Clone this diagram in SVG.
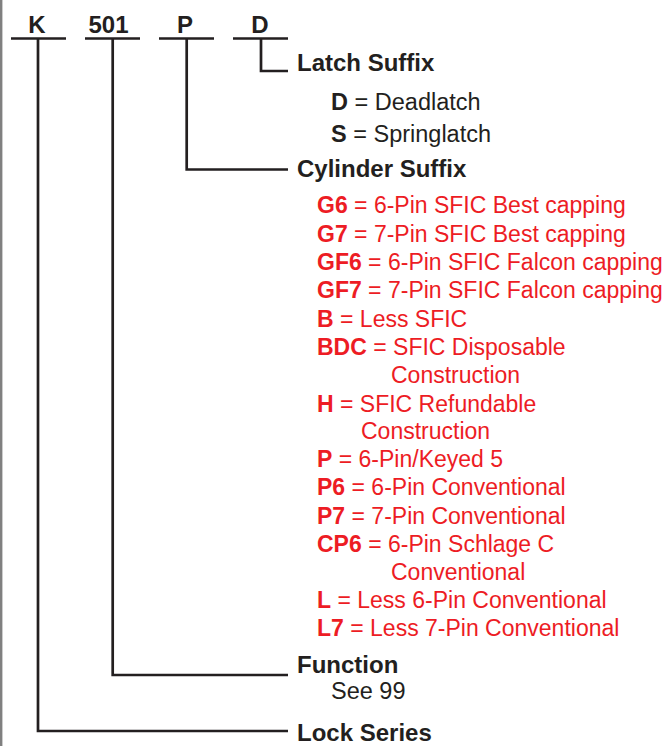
<svg xmlns="http://www.w3.org/2000/svg" width="666" height="746" viewBox="0 0 666 746">
<style>
.ln{stroke:#231f20;stroke-width:2.7;fill:none;stroke-linecap:butt;stroke-linejoin:miter}
.hd{font-family:"Liberation Sans",Arial,sans-serif;font-weight:bold;font-size:24px;fill:#231f20}
.code{font-family:"Liberation Sans",Arial,sans-serif;font-weight:bold;font-size:24px;fill:#231f20;text-anchor:middle}
.bk{font-family:"Liberation Sans",Arial,sans-serif;font-size:23.5px;fill:#231f20}
.rd{font-family:"Liberation Sans",Arial,sans-serif;font-size:23px;fill:#ed1c24}
.b{font-weight:bold}
</style>
<rect x="0" y="0" width="666" height="746" fill="#ffffff"/>
<rect x="0" y="0" width="2.4" height="746" fill="#808080"/>
<g id="connectors">
<path class="ln" d="M11 38.5H66M38 38.5V731H288"/>
<path class="ln" d="M85 38.5H140M112.7 38.5V675H288"/>
<path class="ln" d="M159 38.5H214M186.7 38.5V169.5H288"/>
<path class="ln" d="M233 38.5H288M261 38.5V71H288"/>
</g>
<g id="code-K"><text class="code" x="37" y="33">K</text></g>
<g id="code-501"><text class="code" x="108.5" y="33">501</text></g>
<g id="code-P"><text class="code" x="185" y="33">P</text></g>
<g id="code-D"><text class="code" x="260" y="33">D</text></g>
<g id="latch-suffix">
<text class="hd" x="297" y="71">Latch Suffix</text>
<text class="bk" x="331" y="110"><tspan class="b">D</tspan> = Deadlatch</text>
<text class="bk" x="331" y="142"><tspan class="b">S</tspan> = Springlatch</text>
</g>
<g id="cylinder-suffix">
<text class="hd" x="297" y="177">Cylinder Suffix</text>
<text class="rd" x="317" y="213"><tspan class="b">G6</tspan> = 6-Pin SFIC Best capping</text>
<text class="rd" x="317" y="241.5"><tspan class="b">G7</tspan> = 7-Pin SFIC Best capping</text>
<text class="rd" x="317" y="270"><tspan class="b">GF6</tspan> = 6-Pin SFIC Falcon capping</text>
<text class="rd" x="317" y="298"><tspan class="b">GF7</tspan> = 7-Pin SFIC Falcon capping</text>
<text class="rd" x="317" y="326.5"><tspan class="b">B</tspan> = Less SFIC</text>
<text class="rd" x="317" y="355"><tspan class="b">BDC</tspan> = SFIC Disposable</text>
<text class="rd" x="391" y="383">Construction</text>
<text class="rd" x="317" y="411.5"><tspan class="b">H</tspan> = SFIC Refundable</text>
<text class="rd" x="361" y="439">Construction</text>
<text class="rd" x="317" y="467"><tspan class="b">P</tspan> = 6-Pin/Keyed 5</text>
<text class="rd" x="317" y="495"><tspan class="b">P6</tspan> = 6-Pin Conventional</text>
<text class="rd" x="317" y="523.5"><tspan class="b">P7</tspan> = 7-Pin Conventional</text>
<text class="rd" x="317" y="552"><tspan class="b">CP6</tspan> = 6-Pin Schlage C</text>
<text class="rd" x="391" y="580">Conventional</text>
<text class="rd" x="317" y="608"><tspan class="b">L</tspan> = Less 6-Pin Conventional</text>
<text class="rd" x="317" y="636"><tspan class="b">L7</tspan> = Less 7-Pin Conventional</text>
</g>
<g id="function">
<text class="hd" x="297" y="673">Function</text>
<text class="bk" x="331" y="698.5">See 99</text>
</g>
<g id="lock-series">
<text class="hd" x="297" y="741">Lock Series</text>
</g>
</svg>
